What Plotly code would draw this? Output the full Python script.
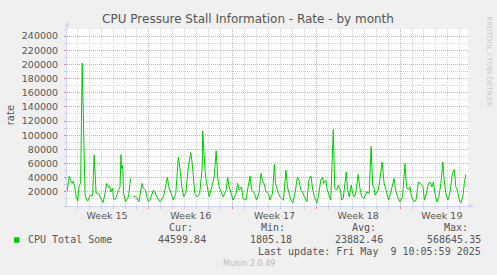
import plotly.graph_objects as go
from datetime import datetime, timedelta

# ---------------- data ----------------
start_time = datetime(2025, 4, 6)  # hours below are offsets from this time
hours = [4, 8, 12, 14, 16, 19, 22, 25, 28, 31, 34, 38, 40, 45, 50, 55, 58, 62, 67, 73,
         76, 80, 83, 87, 89, 92, 95, 97, 101, 107, 110, 112, 113, 115, 116, 117, 121, 127, 131, 133,
         137, 143, 148, 154, 157, 161, 164, 167, 170, 177, 180, 184, 190, 197, 200, 205, 208, 212, 217, 222,
         227, 230, 234, 238, 242, 247, 252, 255, 260, 264, 268, 270, 275, 276, 278, 281, 284, 287, 289, 294,
         299, 303, 306, 309, 314, 317, 323, 326, 329, 333, 337, 343, 346, 349, 354, 357, 363, 367, 371, 374,
         378, 381, 384, 389, 393, 396, 399, 403, 408, 411, 416, 420, 422, 428, 431, 438, 443, 446, 449, 453,
         457, 461, 466, 469, 473, 476, 480, 485, 489, 493, 497, 500, 505, 508, 513, 516, 519, 523, 526, 530,
         533, 538, 541, 545, 548, 552, 555, 558, 564, 567, 570, 574, 577, 580, 583, 588, 591, 595, 600, 605,
         610, 614, 617, 620, 622, 628, 632, 636, 640, 644, 649, 653, 660, 663, 667, 672, 677, 682, 685, 689,
         692, 695, 700, 704, 709, 713, 718, 721, 725, 729, 732, 736, 739, 742, 746, 750, 754, 758, 760, 764,
         768, 772, 777, 781, 784, 787, 791, 794, 798, 801, 804]
rate = [21000, 42000, 35000, 32000, 35000, 28000, 13000, 7000, 28500, 32000, 202000, 74000, 14000, 7000, 15000, 14500, 72500, 18500, 18000, 8300,
        5000, 18000, 32000, 26500, 28500, 20000, 25000, 9700, 9700, 22000, 27000, 72500, 53000, 57000, 48000, 18000, 6000, 13000, 39000, None,
        14000, 12500, 6000, 32000, 25000, 22500, 13000, 6000, 8300, 22500, 20000, 13000, 6000, 13000, 22500, 41000, 27000, 17800, 8300, 17800,
        69000, 55000, 27000, 13000, 17800, 55000, 75500, 60000, 17800, 13000, 15000, 17800, 55000, 106000, 72000, 46000, 32000, 22500, 13000, 27000,
        41000, 78000, 41000, 27000, 17800, 13000, 22500, 41000, 27000, 15400, 8300, 17800, 32000, 22500, 27000, 10700, 8300, 27000, 42500, 22500,
        20000, 15400, 8300, 17800, 46000, 36500, 32000, 20000, 17800, 8300, 17800, 59000, 32000, 17800, 13000, 8300, 50500, 27000, 17800, 8300,
        4500, 17800, 41000, 36500, 22500, 20000, 13000, 6000, 36500, 42500, 22500, 13000, 4500, 13000, 36500, 40300, 32000, 36500, 22500, 13000,
        8300, 108000, 24800, 22500, 29500, 22500, 8300, 10700, 48000, 22500, 13000, 29500, 17800, 13000, 17800, 44500, 27000, 13000, 10700, 20000,
        17800, 84000, 29500, 24800, 15400, 22500, 39000, 62000, 32000, 22500, 8300, 17800, 39000, 22500, 13000, 6000, 13000, 60000, 27000, 22500,
        27000, 13000, 6000, 8300, 34000, 32000, 27000, 8300, 17800, 32000, 34000, 27000, 34000, 17800, 6000, 13000, 32000, 62000, 41000, 17800,
        8300, 17800, 46000, 51500, 27000, 22500, 8300, 4500, 13000, 32000, 44600]

series_name = "CPU Total Some"
week_starts = ["2025-04-13", "2025-04-20", "2025-04-27", "2025-05-04"]
week_mids = ["2025-04-09 12:00", "2025-04-16 12:00", "2025-04-23 12:00", "2025-04-30 12:00", "2025-05-07 12:00"]
week_labels = ["Week 15", "Week 16", "Week 17", "Week 18", "Week 19"]
y_ticks = [20000, 40000, 60000, 80000, 100000, 120000, 140000, 160000, 180000, 200000, 220000, 240000]
stat_names = ["Cur:", "Min:", "Avg:", "Max:"]
stat_values = ["44599.84", "1805.18", "23882.46", "568645.35"]
last_update = "Last update: Fri May  9 10:05:59 2025"

# ---------------- figure ----------------
W, H = 497, 275
L, R, T, B = 67, 468, 28.6, 205.9

times = [start_time + timedelta(hours=h) for h in hours]
x_range = [start_time + timedelta(hours=3.6), start_time + timedelta(hours=808.4)]

FONT = "DejaVu Sans"
MONO = "DejaVu Sans Mono"
TXT = "#555555"
GREEN = "#00CC00"
MGRID = "#EBA0A0"
GRID = "#D4D4D4"
AXIS = "#CFD6F8"


def px(x):
    return (x - L) / (R - L)


def py(y):
    return (B - y) / (B - T)


fig = go.Figure()
fig.add_trace(go.Scatter(x=times, y=rate, mode="lines", name=series_name,
                         line=dict(color=GREEN, width=1), connectgaps=False,
                         showlegend=False))
fig.add_trace(go.Scatter(x=week_mids, y=[0] * len(week_mids), xaxis="x2", mode="markers",
                         marker=dict(opacity=0), showlegend=False, hoverinfo="skip"))

fig.update_layout(
    width=W, height=H,
    margin=dict(l=L, r=W - R, t=T, b=H - B, pad=0),
    paper_bgcolor="#F0F0F0", plot_bgcolor="#FFFFFF",
    font=dict(family=FONT, color=TXT, size=10),
    title=dict(text="CPU Pressure Stall Information - Rate - by month",
               x=248 / W, xanchor="center", y=1 - 19 / H, yanchor="middle",
               font=dict(family=FONT, size=12, color=TXT)),
    xaxis=dict(type="date", range=x_range, tickmode="array", tickvals=week_starts,
               ticktext=[""] * len(week_starts), showgrid=True, gridcolor=MGRID,
               griddash="1px,1px", gridwidth=1, ticks="outside", ticklen=2, tickcolor="#E08080",
               showline=True, linecolor=AXIS, linewidth=1, zeroline=False,
               minor=dict(dtick=86400000, tick0="2025-04-06", showgrid=True, gridcolor=GRID,
                          griddash="1px,1px", ticks="outside", ticklen=2, tickcolor="#C8C8C8")),
    xaxis2=dict(type="date", range=x_range, overlaying="x", anchor="y", side="bottom",
                tickmode="array", tickvals=week_mids, ticktext=week_labels, showgrid=False,
                showline=False, zeroline=False, ticks="", ticklabelstandoff=2,
                tickfont=dict(family=FONT, size=9.5, color=TXT)),
    yaxis=dict(range=[0, 250000], tickmode="array", tickvals=y_ticks,
               ticktext=[str(v) for v in y_ticks], showgrid=True, gridcolor=MGRID,
               griddash="1px,1px", ticks="outside", ticklen=2, tickcolor="#E08080",
               showline=True, linecolor=AXIS, zeroline=False, ticklabelstandoff=4,
               tickfont=dict(family=FONT, size=9.5, color=TXT),
               minor=dict(dtick=10000, tick0=0, showgrid=True, gridcolor=GRID,
                          griddash="1px,1px", ticks="outside", ticklen=2, tickcolor="#C8C8C8")),
)

ann = []
# y axis title
ann.append(dict(text="rate", x=px(10), y=py(115), xref="paper", yref="paper", textangle=-90,
                showarrow=False, xanchor="center", yanchor="middle",
                font=dict(family=FONT, size=10, color=TXT)))
# watermark
ann.append(dict(text="RRDTOOL / TOBI OETIKER", x=px(489), y=py(61), xref="paper", yref="paper",
                textangle=90, showarrow=False, xanchor="center", yanchor="middle",
                font=dict(family=FONT, size=7, color="#C8C8C8")))
# legend
ann.append(dict(text=series_name, x=px(26), y=py(239.7), xref="paper", yref="paper",
                showarrow=False, xanchor="left", yanchor="middle",
                font=dict(family=MONO, size=10, color=TXT)))
head_right = [195, 287, 378, 470]
val_right = [208, 293.5, 384.5, 483]
for name, val, hx, vx in zip(stat_names, stat_values, head_right, val_right):
    ann.append(dict(text=name, x=px(hx), y=py(227.3), xref="paper", yref="paper",
                    showarrow=False, xanchor="right", yanchor="middle",
                    font=dict(family=MONO, size=10, color=TXT)))
    ann.append(dict(text=val, x=px(vx), y=py(239.7), xref="paper", yref="paper",
                    showarrow=False, xanchor="right", yanchor="middle",
                    font=dict(family=MONO, size=10, color=TXT)))
ann.append(dict(text=last_update.replace(" ", "&nbsp;"), x=px(483), y=py(251.7), xref="paper", yref="paper",
                showarrow=False, xanchor="right", yanchor="middle",
                font=dict(family=MONO, size=10, color=TXT)))
ann.append(dict(text="Munin 2.0.49", x=px(249), y=py(263.3), xref="paper", yref="paper",
                showarrow=False, xanchor="center", yanchor="middle",
                font=dict(family=FONT, size=8, color="#BBBBBB")))
# axis arrows
ann.append(dict(text="", x=px(67), y=py(21), xref="paper", yref="paper", showarrow=True,
                ax=0, ay=9, arrowhead=2, arrowsize=1, arrowwidth=1, arrowcolor=AXIS))
ann.append(dict(text="", x=px(474), y=py(B), xref="paper", yref="paper", showarrow=True,
                ax=-9, ay=0, arrowhead=2, arrowsize=1, arrowwidth=1, arrowcolor=AXIS))
fig.update_layout(annotations=ann)

fig.add_shape(type="rect", xref="paper", yref="paper", x0=px(14), x1=px(19.5),
              y0=py(242.7), y1=py(237.2), fillcolor=GREEN, line=dict(width=0))

fig.write_html("out.html")
